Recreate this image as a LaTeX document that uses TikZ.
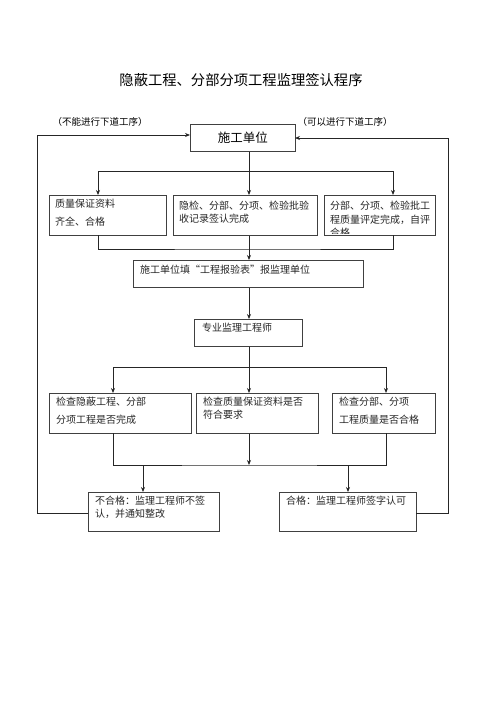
\documentclass[tikz,border=0pt]{standalone}
\usepackage{fontspec}
\setmainfont{Noto Sans CJK SC}
\usetikzlibrary{arrows.meta,calc}
\begin{document}
\begin{tikzpicture}[x=1pt,y=-1pt,
  box/.style={draw=black!75,line width=0.7pt,inner sep=0pt,anchor=north west},
  txt/.style={inner sep=0pt,anchor=north west,align=left,font=\fontsize{10}{13}\selectfont,text=black!85},
  ln/.style={line width=0.8pt,black!85},
  arr/.style={ln,-{Stealth[length=5pt,width=4pt]}}]
\useasboundingbox (0,0) rectangle (500,707);
% title
\node[font=\fontsize{14.3}{16}\selectfont] (title) at (241,80) {隐蔽工程、分部分项工程监理签认程序};
\node[font=\fontsize{9.5}{11}\selectfont,anchor=west] (lbl1) at (49,122) {（不能进行下道工序）};
\node[font=\fontsize{9.5}{11}\selectfont,anchor=west] (lbl2) at (294,122) {（可以进行下道工序）};
% boxes
\node[box,minimum width=105pt,minimum height=27pt] (s) at (190,124) {};
\node[font=\fontsize{12.5}{14}\selectfont] (st) at (s.center) {施工单位};
\node[box,minimum width=117pt,minimum height=40pt] (a) at (49,195) {};
\node[box,minimum width=144pt,minimum height=40pt] (b) at (173,195) {};
\node[box,minimum width=111pt,minimum height=40pt] (c) at (324,195) {};
\node[box,minimum width=230pt,minimum height=27pt] (f) at (133,260) {};
\node[box,minimum width=108pt,minimum height=27pt] (z) at (194,319) {};
\node[box,minimum width=142pt,minimum height=40pt] (d) at (49,393) {};
\node[box,minimum width=122pt,minimum height=40pt] (e) at (196,393) {};
\node[box,minimum width=103pt,minimum height=40pt] (g) at (332,393) {};
\node[box,minimum width=131pt,minimum height=39pt] (n) at (88,492) {};
\node[box,minimum width=137pt,minimum height=39pt] (p) at (279,492) {};
% texts
\node[txt,font=\fontsize{10}{18}\selectfont] (at) at (55,199) {质量保证资料\\齐全、合格};
\node[txt] (bt) at (179,201) {隐检、分部、分项、检验批验\\收记录签认完成};
\begin{scope}
\clip (324,195) rectangle (435,233.5);
\node[txt,font=\fontsize{10}{13.5}\selectfont] (ct) at (330,201) {分部、分项、检验批工\\程质量评定完成，自评\\合格};
\end{scope}
\node[txt] (ft) at (140,265) {施工单位填“工程报验表”报监理单位};
\node[txt] (zt) at (202,323) {专业监理工程师};
\node[txt,font=\fontsize{10}{18}\selectfont] (dt) at (56,397) {检查隐蔽工程、分部\\分项工程是否完成};
\node[txt] (et) at (203,397) {检查质量保证资料是否\\符合要求};
\node[txt,font=\fontsize{10}{18}\selectfont] (gt) at (339,397) {检查分部、分项\\工程质量是否合格};
\node[txt] (nt) at (95,496) {不合格：监理工程师不签\\认，并通知整改};
\node[txt] (pt) at (286,496) {合格：监理工程师签字认可};
% coordinates
\coordinate (k1) at (249,171);
\coordinate (aT) at (98,195);
\coordinate (cT) at (393,195);
\coordinate (aB) at (98,235);
\coordinate (cB) at (393,235);
\coordinate (m1) at (249,249);
\coordinate (k2) at (249,367);
\coordinate (dT) at (113,393);
\coordinate (gT) at (386,393);
\coordinate (dB) at (113,433);
\coordinate (gB) at (386,433);
\coordinate (m2) at (249,465);
\coordinate (nT) at (143,492);
\coordinate (pT) at (348,492);
\coordinate (sL) at (190,135);
\coordinate (sR) at (295,138);
\coordinate (nL) at (88,513);
\coordinate (pR) at (416,513);
% connectors
\draw[arr] (s.south -| k1) -- (b.north -| k1);
\draw[arr] (k1) -| (aT);
\draw[arr] (k1) -| (cT);
\draw[ln] (aB) |- (m1) -| (cB);
\draw[arr] (b.south -| m1) -- (f.north -| m1);
\draw[arr] (f.south -| m1) -- (z.north -| m1);
\draw[arr] (z.south -| k2) -- (e.north -| k2);
\draw[arr] (k2) -| (dT);
\draw[arr] (k2) -| (gT);
\draw[ln] (dB) |- (m2) -| (gB);
\draw[arr] (e.south -| m2) -- (m2);
\draw[arr] (m2 -| nT) -- (nT);
\draw[arr] (m2 -| pT) -- (pT);
\draw[arr] (nL) -| (37,135) -- (sL);
\draw[arr] (pR) -| (448,138) -- (sR);
\end{tikzpicture}
\end{document}
